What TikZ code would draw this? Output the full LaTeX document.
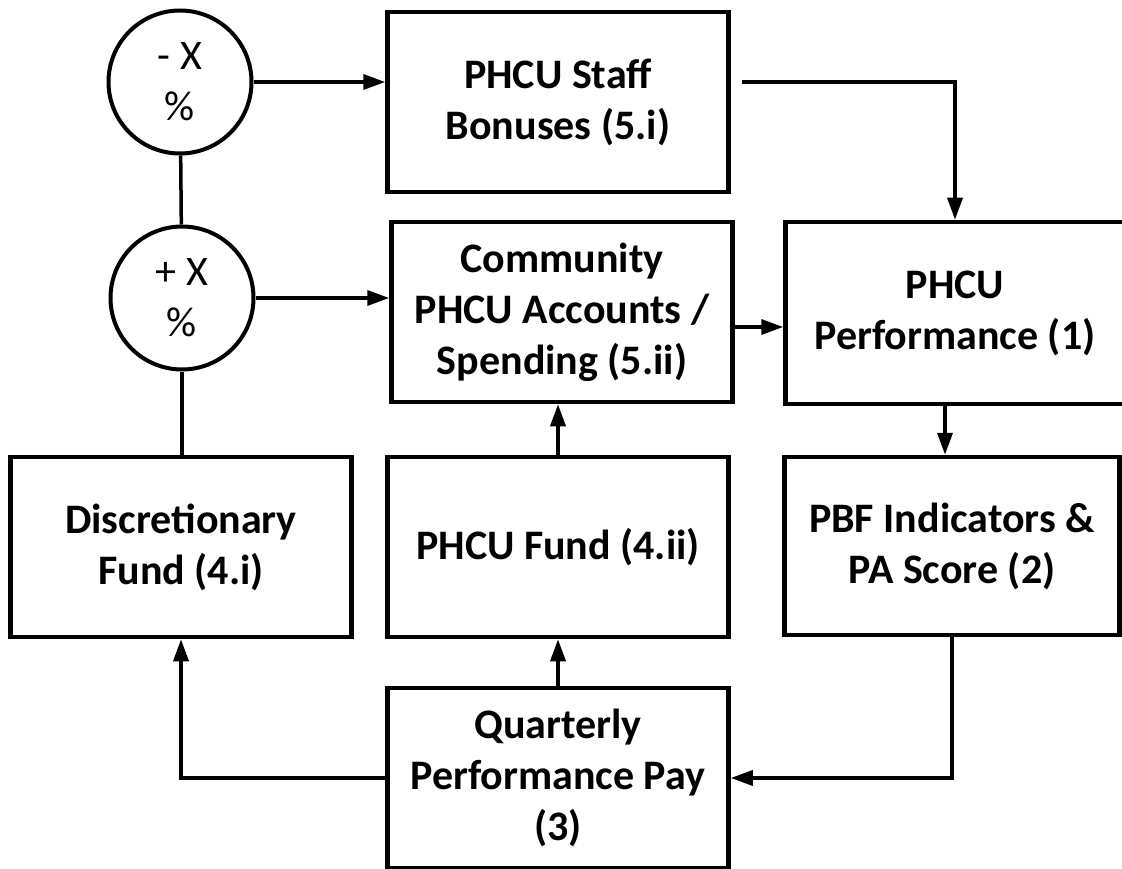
\documentclass[tikz,border=0pt]{standalone}
\usepackage{fontspec}
\setmainfont{Carlito}
\usepackage{tikz}
\usetikzlibrary{arrows.meta, positioning}

\begin{document}
\begin{tikzpicture}[
  x=1pt, y=-1pt,
  box/.style={rectangle, draw=black, line width=4.5pt, minimum width=341pt, minimum height=180pt, text centered, align=center, inner sep=0pt, font=\fontsize{42}{51}\selectfont\bfseries},
  pct/.style={circle, draw=black, line width=4pt, minimum size=143pt, text centered, align=center, inner sep=0pt, font=\fontsize{42}{51}\selectfont},
  arrow/.style={line width=3.5pt, -{Triangle[length=22pt, width=15pt]}},
  link/.style={line width=3.5pt}
]
\useasboundingbox (0,0) rectangle (1122,869);

% Percentage circles
\node (minus) [pct] at (180,82) {- X\\\%};
\node (plus) [pct] at (182,298) {+ X\\\%};

% Spending boxes
\node (staff) [box] at (558,102) {PHCU Staff\\Bonuses (5.i)};
\node (comm) [box] at (562,312) {Community\\PHCU Accounts /\\Spending (5.ii)};
\node (perf) [box, minimum width=339pt, minimum height=182pt] at (955,313) {PHCU\\Performance (1)};

% Funds and scores
\node (disc) [box] at (181,547) {Discretionary\\Fund (4.i)};
\node (fund) [box] at (558,547) {PHCU Fund (4.ii)};
\node (pbf) [box, minimum width=335pt, minimum height=178pt] at (952,546) {PBF Indicators \&\\PA Score (2)};
\node (quart) [box] at (558,778) {Quarterly\\Performance Pay\\(3)};

\coordinate (staffout) at (742,82);

% Arrows
\draw [link] (minus) -- (plus);
\draw [link] (plus) -- (plus |- disc.north);
\draw [arrow] (minus.east) -- (minus.east -| staff.west);
\draw [arrow] (plus.east) -- (plus.east -| comm.west);
\draw [arrow] (staffout) -| (perf.north);
\draw [arrow] ([yshift=-15pt]comm.east) -- ([yshift=-15pt]comm.east -| perf.west);
\draw [arrow] ([xshift=-10pt]perf.south) -- ([xshift=-10pt]perf.south |- pbf.north);
\draw [arrow] (pbf.south) |- (quart.east);
\draw [arrow] (quart.west) -| (disc.south);
\draw [arrow] (quart.north) -- (fund.south);
\draw [arrow] (fund.north) -- (fund.north |- comm.south);

\end{tikzpicture}
\end{document}
